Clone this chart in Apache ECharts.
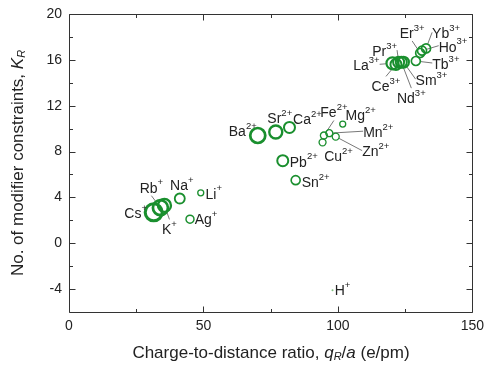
<!DOCTYPE html>
<html><head><meta charset="utf-8">
<script src="https://cdn.jsdelivr.net/npm/echarts@6/dist/echarts.min.js"></script>
<style>html,body{margin:0;padding:0;background:#fff}#c{width:487px;height:372px}</style>
</head><body><div id="c"></div>
<script>
// ---- data ----
const ions    = ['Cs','Rb','K','Na','Li','Ag','Ba','Sr','Ca','Pb','Sn','Fe','Mn','Zn','Mg','Cu','La','Ce','Pr','Nd','Sm','Tb','Ho','Er','Yb','H'];
const charges = ['+','+','+','+','+','+','2+','2+','2+','2+','2+','2+','2+','2+','2+','2+','3+','3+','3+','3+','3+','3+','3+','3+','3+','+'];
const qOverA  = [31.5,34.0,35.5,41.2,49.0,45.0,70.2,76.9,82.0,79.5,84.3,94.8,96.8,99.2,101.8,94.3,120.3,121.6,122.6,123.6,124.4,129.0,131.3,130.6,132.8,98.0];
const kR      = [2.7,3.1,3.3,3.9,4.4,2.1,9.4,9.7,10.1,7.2,5.5,9.4,9.6,9.3,10.4,8.8,15.7,15.6,15.8,15.8,15.8,15.9,16.8,16.6,17.0,-4.1];
const markerDiam = [17,15,13,10,6,8,15,13,11,11,9,7,7,7,6,7,12,11,11,11,11,9,9,9,9,2];
const xMajor = [0,50,100,150], xMinor = [25,75,125];
const yMajor = [-4,0,4,8,12,16,20], yMinor = [-2,2,6,10,14,18];
const xTickStep = 50, yTickStep = 4;
const xTitle = '{n|Charge-to-distance ratio, }{i|q}{sub|R}{n|/}{i|a}{n| (e/pm)}';
const yTitle = '{n|No. of modifier constraints, }{i|K}{sub|R}';

// ---- label layout (pixel offsets of label centre from marker), leader line flag ----
const labelOff = {
  Cs:[-18,0,0], Rb:[-9,-21,1], K:[5,23,1], Na:[2,-14,0], Li:[13,0,0], Ag:[16,-1,0],
  Ba:[-15,-5,0], Sr:[4,-15,0], Ca:[18,-9,0], Pb:[21,0,0], Sn:[20,1,0],
  Fe:[10,-24,1], Mn:[49,-2,1], Zn:[40,14,1], Mg:[18,-10,0], Cu:[16,13,0],
  La:[-26,1,1], Ce:[-10,21,1], Pr:[-14,-12,1], Nd:[10,35,1], Sm:[28,17,1],
  Tb:[30,2,1], Ho:[31,-5,1], Er:[-8,-21,1], Yb:[20,-16,1], H:[10,-1,0]
};

const green = '#1a8f2e';
const data = ions.map((n,i)=>({
  name:n,
  value:[qOverA[i],kR[i]],
  symbolSize: markerDiam[i],
  itemStyle: n==='H' ? {color:'#7fbf7f', borderWidth:0, opacity:1} : {color:'rgba(0,0,0,0)', borderColor:green, borderWidth: Math.max(1.3, markerDiam[i]/5.5), opacity:1},
  label:{formatter:'{a|'+n+'}{s|'+charges[i]+'}'},
  labelLine:{show: !!labelOff[n][2]}
}));

const font = '"Liberation Sans", Arial, sans-serif';
const axisCol = '#333';
const titleRich = {n:{fontFamily:font,fontSize:17,fill:'#222',color:'#222'},i:{fontFamily:font,fontSize:17,fontStyle:'italic',fill:'#222',color:'#222'},sub:{fontFamily:font,fontSize:11,fontStyle:'italic',fill:'#222',color:'#222',verticalAlign:'bottom',padding:[8,0,0,0]}};

const chart = echarts.init(document.getElementById('c'), null, {renderer:'canvas'});
chart.setOption({
  animation:false,
  backgroundColor:'#fff',
  grid:{left:69, top:14, right:14, bottom:60, show:false, containLabel:false},
  xAxis:{type:'value', position:'bottom', min:0, max:150, interval:xTickStep,
    axisLine:{show:false, onZero:false}, splitLine:{show:false}, axisTick:{show:false}, minorTick:{show:false},
    axisLabel:{show:true, fontFamily:font, fontSize:14, color:'#222', margin:7}},
  yAxis:{type:'value', position:'left', min:-6, max:20, interval:yTickStep/2,
    axisLine:{show:false, onZero:false}, splitLine:{show:false}, axisTick:{show:false}, minorTick:{show:false},
    axisLabel:{show:true, fontFamily:font, fontSize:14, color:'#222', margin:7,
      formatter:v => (((v % yTickStep) + yTickStep) % yTickStep === 0 ? String(v) : '')}},
  series:[{
    type:'scatter', xAxisIndex:0, yAxisIndex:0, symbol:'circle', data:data,
    label:{show:true, position:'inside', align:'center', verticalAlign:'middle',
      rich:{a:{fontFamily:font,fontSize:14,color:'#222',lineHeight:18,verticalAlign:'bottom'},
            s:{fontFamily:font,fontSize:9.5,color:'#222',lineHeight:18,verticalAlign:'top'}}},
    labelLine:{lineStyle:{color:'#555', width:0.8}},
    labelLayout:function(p){const o=labelOff[ions[p.dataIndex]];return {dx:o[0], dy:o[1]};},
    emphasis:{disabled:true}
  }]
});

// frame and inward ticks, positioned through the chart's own axis scales
const els = [
  {type:'text', x:271, y:353, silent:true,
    style:{text:xTitle, rich:titleRich, align:'center', verticalAlign:'middle', fill:'#222', font:'17px '+font}},
  {type:'text', x:18, y:163, rotation:Math.PI/2, silent:true,
    style:{text:yTitle, rich:titleRich, align:'center', verticalAlign:'middle', fill:'#222', font:'17px '+font}}
];
try {
  const snap = v => Math.round(v) + 0.5;
  const px = (x,y) => chart.convertToPixel({gridIndex:0}, [x,y]);
  const tl = px(0,20), br = px(150,-6);
  const L = snap(tl[0]), T = snap(tl[1]), R = snap(br[0]), B = snap(br[1]);
  const seg = (x1,y1,x2,y2) => ({type:'line', silent:true, z:100, shape:{x1:x1,y1:y1,x2:x2,y2:y2}, style:{stroke:axisCol, lineWidth:1}});
  els.push(seg(L,T,R,T), seg(R,T,R,B), seg(R,B,L,B), seg(L,B,L,T));
  xMajor.forEach(v => { const x = snap(px(v,0)[0]); els.push(seg(x,B,x,B-6), seg(x,T,x,T+6)); });
  xMinor.forEach(v => { const x = snap(px(v,0)[0]); els.push(seg(x,B,x,B-3.5), seg(x,T,x,T+3.5)); });
  yMajor.forEach(v => { const y = snap(px(0,v)[1]); els.push(seg(L,y,L+6,y), seg(R,y,R-6,y)); });
  yMinor.forEach(v => { const y = snap(px(0,v)[1]); els.push(seg(L,y,L+3.5,y), seg(R,y,R-3.5,y)); });
} catch (e) { console.error(e); }
chart.setOption({graphic:els});
</script></body></html>
